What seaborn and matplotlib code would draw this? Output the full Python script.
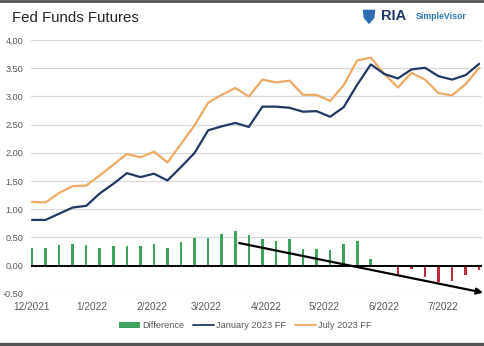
import numpy as np
import pandas as pd
import matplotlib
matplotlib.use("Agg")
import matplotlib.pyplot as plt
import matplotlib.dates as mdates
from matplotlib.patches import Patch, Polygon
from matplotlib.lines import Line2D
import seaborn as sns

# Weekly observations, Dec 2021 - Jul 2022
dates = pd.date_range("2021-12-01", periods=34, freq="7D")

jan_2023_ff = [0.81, 0.81, 0.92, 1.03, 1.06, 1.28, 1.45, 1.64, 1.57, 1.63,
               1.51, 1.75, 2.00, 2.40, 2.47, 2.53, 2.46, 2.82, 2.82, 2.80,
               2.73, 2.74, 2.64, 2.81, 3.21, 3.57, 3.40, 3.32, 3.48, 3.51,
               3.36, 3.30, 3.38, 3.58]
jul_2023_ff = [1.13, 1.12, 1.29, 1.41, 1.42, 1.60, 1.79, 1.98, 1.92, 2.02,
               1.83, 2.16, 2.49, 2.89, 3.03, 3.15, 3.00, 3.30, 3.25, 3.28,
               3.03, 3.03, 2.92, 3.20, 3.64, 3.69, 3.40, 3.16, 3.42, 3.30,
               3.06, 3.02, 3.22, 3.51]
difference = [0.32, 0.31, 0.37, 0.38, 0.36, 0.32, 0.34, 0.34, 0.35, 0.39,
              0.32, 0.41, 0.49, 0.49, 0.56, 0.62, 0.54, 0.48, 0.43, 0.48,
              0.30, 0.29, 0.28, 0.39, 0.43, 0.12, 0.00, -0.16, -0.06, -0.21,
              -0.30, -0.28, -0.16, -0.07]

month_ticks = ["2021-12-01", "2022-01-01", "2022-02-01", "2022-03-01",
               "2022-04-01", "2022-05-01", "2022-06-01", "2022-07-01"]
month_labels = ["12/2021", "1/2022", "2/2022", "3/2022",
                "4/2022", "5/2022", "6/2022", "7/2022"]
y_ticks = [-0.5, 0.0, 0.5, 1.0, 1.5, 2.0, 2.5, 3.0, 3.5, 4.0]

# Hand-drawn downward trend arrow across the difference bars
trend_start = ("2022-03-18", 0.40)
trend_end = ("2022-07-22", -0.48)

NAVY = "#203864"
ORANGE = "#F0A865"
GREEN = "#3DA35D"
RED = "#C0283C"
GRID = "#D9D9D9"
TXT = "#595959"

sns.set_theme(style="white")
plt.rcParams["font.family"] = ["Liberation Sans", "DejaVu Sans"]

x = mdates.date2num(dates)
df = pd.DataFrame({
    "x": x,
    "jan": jan_2023_ff,
    "jul": jul_2023_ff,
    "diff": difference,
    "sign": ["pos" if d >= 0 else "neg" for d in difference],
})

fig = plt.figure(figsize=(4.85, 3.46), dpi=100)
ax = fig.add_axes([0.064, 0.151, 0.930, 0.733])

for v in y_ticks:
    if v != 0:
        ax.axhline(v, color=GRID, lw=0.9, zorder=0)

sns.barplot(data=df, x="x", y="diff", hue="sign",
            palette={"pos": GREEN, "neg": RED}, native_scale=True,
            width=0.19, dodge=False, legend=False, ax=ax, zorder=2,
            linewidth=0, saturation=1)
for p in ax.patches:
    p.set_snap(True)
    p.set_antialiased(False)
ax.axhline(0, color="black", lw=1.4, zorder=3)

sns.lineplot(data=df, x="x", y="jul", color=ORANGE, lw=1.6, ax=ax, zorder=4)
sns.lineplot(data=df, x="x", y="jan", color=NAVY, lw=1.6, ax=ax, zorder=5)

ax.annotate("", xy=(mdates.date2num(pd.Timestamp(trend_end[0])), trend_end[1]),
            xytext=(mdates.date2num(pd.Timestamp(trend_start[0])), trend_start[1]),
            arrowprops=dict(arrowstyle="-|>", color="black", lw=1.6,
                            mutation_scale=9, shrinkA=0, shrinkB=0),
            zorder=6, annotation_clip=False)

ax.set_xlim(mdates.date2num(pd.Timestamp("2021-11-30 12:00")),
            mdates.date2num(pd.Timestamp("2022-07-21 12:00")))
ax.set_ylim(-0.5, 4.0)
ax.set_xticks(mdates.date2num(pd.to_datetime(month_ticks)))
ax.set_xticklabels(month_labels)
ax.set_yticks(y_ticks)
ax.set_yticklabels([f"{v:.2f}" for v in y_ticks])
ax.tick_params(axis="y", labelsize=6.6, colors=TXT, length=0, pad=5.5)
ax.tick_params(axis="x", labelsize=7.2, colors=TXT, length=0, pad=6)
ax.set_xlabel("")
ax.set_ylabel("")
for s in ax.spines.values():
    s.set_visible(False)

fig.text(0.025, 0.948, "Fed Funds Futures", fontsize=10.8, color="#262626",
         va="center", ha="left")

# Brand mark
shield = Polygon([[0.748, 0.972], [0.774, 0.972], [0.772, 0.948],
                  [0.761, 0.930], [0.750, 0.948]], closed=True,
                 transform=fig.transFigure, facecolor="#2E6DB4",
                 edgecolor="none")
fig.patches.append(shield)
fig.text(0.786, 0.955, "RIA", fontsize=10.5, fontweight="bold",
         color="#1F3864", va="center", ha="left")
fig.text(0.857, 0.952, "SimpleVisor", fontsize=6.3, fontweight="bold",
         color="#2E75B6", va="center", ha="left")

handles = [Patch(facecolor=GREEN, edgecolor="none", label="Difference"),
           Line2D([0], [0], color=NAVY, lw=1.3, label="January 2023 FF"),
           Line2D([0], [0], color=ORANGE, lw=1.3, label="July 2023 FF")]
leg = fig.legend(handles=handles, loc="center", bbox_to_anchor=(0.506, 0.058),
                 ncol=3, frameon=False, fontsize=6.7, handlelength=2.2,
                 handleheight=0.5, handletextpad=0.25, columnspacing=1.0)
for t in leg.get_texts():
    t.set_color(TXT)

# Frame rules across top and bottom
fig.add_artist(Line2D([0, 1], [0.997, 0.997], transform=fig.transFigure,
                      color="#555555", lw=2.0))
fig.add_artist(Line2D([0, 1], [0.005, 0.005], transform=fig.transFigure,
                      color="#555555", lw=2.4))

fig.savefig("out.png", dpi=100)
